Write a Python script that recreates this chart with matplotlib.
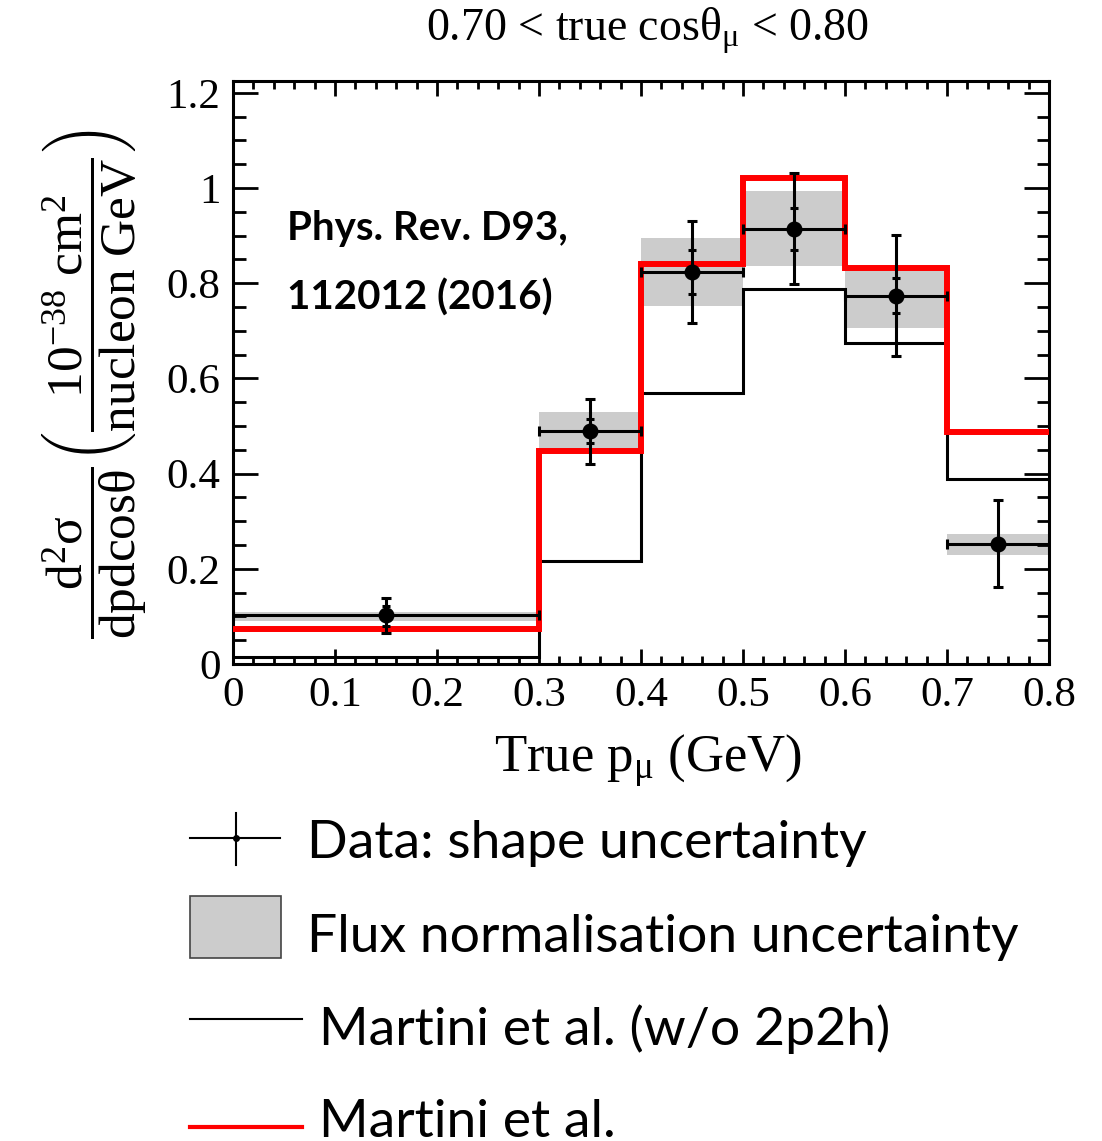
import numpy as np
import matplotlib
matplotlib.use('Agg')
import matplotlib.pyplot as plt
from matplotlib.patches import Rectangle
from matplotlib.lines import Line2D
from matplotlib.ticker import MultipleLocator

plt.rcParams['font.family'] = ['Liberation Serif', 'DejaVu Serif']
plt.rcParams['mathtext.fontset'] = 'custom'
plt.rcParams['mathtext.rm'] = 'Liberation Serif'
plt.rcParams['mathtext.it'] = 'Liberation Serif:italic'

# bins in true muon momentum (GeV)
edges = [0.0, 0.3, 0.4, 0.5, 0.6, 0.7, 0.8]

# data points with shape uncertainty (outer = total, inner ticks)
data_y = [0.102, 0.489, 0.823, 0.914, 0.774, 0.253]
err_up = [0.036, 0.068, 0.108, 0.117, 0.128, 0.092]
err_dn = [0.037, 0.069, 0.106, 0.115, 0.126, 0.092]
inner_up = [0.019, 0.025, 0.047, 0.045, 0.037, 0.0]
inner_dn = [0.023, 0.024, 0.046, 0.044, 0.036, 0.0]

# flux normalisation band
flux_lo = [0.091, 0.448, 0.753, 0.837, 0.707, 0.230]
flux_hi = [0.109, 0.530, 0.895, 0.994, 0.837, 0.274]

# Martini et al. predictions
martini_no2p2h = [0.014, 0.217, 0.569, 0.788, 0.674, 0.389]
martini = [0.074, 0.448, 0.841, 1.021, 0.832, 0.488]

W, H = 1102, 1141
fig = plt.figure(figsize=(W / 100, H / 100), dpi=100)
ax = fig.add_axes([233 / W, 1 - 664 / H, (1049 - 233) / W, (664 - 81) / H])

lefts = np.array(edges[:-1])
widths = np.diff(edges)
centers = lefts + widths / 2

# grey flux band
ax.bar(lefts, np.array(flux_hi) - np.array(flux_lo), width=widths, bottom=flux_lo,
       align='edge', color='#cccccc', linewidth=0, zorder=1)

# model histograms
ax.stairs(martini_no2p2h, edges, baseline=None, color='black', linewidth=2.2, zorder=2)
ax.stairs(martini, edges, baseline=None, color='#ff0000', linewidth=4.3, zorder=3)

# data
ax.errorbar(centers, data_y, xerr=widths / 2, yerr=[err_dn, err_up], fmt='o',
            color='black', markersize=10.5, elinewidth=2.2, capsize=3.5, capthick=2.2,
            zorder=5)
ax.errorbar(centers, data_y, yerr=[inner_dn, inner_up], fmt='none', ecolor='black',
            elinewidth=0, capsize=3, capthick=2.2, zorder=5)

ax.set_xlim(0, 0.8)
ax.set_ylim(0, 1.225)
ax.xaxis.set_minor_locator(MultipleLocator(0.02))
ax.yaxis.set_minor_locator(MultipleLocator(0.05))
ax.set_xticks(np.arange(0, 0.81, 0.1))
ax.set_xticklabels(['0', '0.1', '0.2', '0.3', '0.4', '0.5', '0.6', '0.7', '0.8'])
ax.set_yticks(np.arange(0, 1.21, 0.2))
ax.set_yticklabels(['0', '0.2', '0.4', '0.6', '0.8', '1', '1.2'])
ax.tick_params(which='both', direction='in', top=True, right=True, width=2, labelsize=31)
ax.tick_params(axis='x', which='major', length=11, pad=9)
ax.tick_params(axis='x', which='minor', length=5.5)
ax.tick_params(axis='y', which='major', length=18, pad=9)
ax.tick_params(axis='y', which='minor', length=9)
for s in ax.spines.values():
    s.set_linewidth(2.2)

ax.text(0.053, 0.891, 'Phys. Rev. D93,', fontsize=29, fontweight='bold', family='Lato')
ax.text(0.053, 0.744, '112012 (2016)', fontsize=29, fontweight='bold', family='Lato')

fig.text(648 / W, 1 - 41 / H, r'0.70 < true cosθ$_{\mathrm{μ}}$ < 0.80', fontsize=33,
         ha='center', va='baseline')
fig.text(648 / W, 1 - 772 / H, r'True p$_{\mathrm{μ}}$ (GeV)', fontsize=38,
         ha='center', va='baseline')
fig.text(95 / W, 1 - 384 / H,
         r'$\dfrac{\mathrm{d^2σ}}{\mathrm{dpdcosθ}}\left(\dfrac{\mathrm{10^{-38}\ cm^2}}{\mathrm{nucleon\ GeV}}\right)$',
         fontsize=37, rotation=90, ha='center', va='center')

# legend below the plot, drawn in pixel coordinates
lax = fig.add_axes([0, 0, 1, 1], zorder=-1)
lax.set_xlim(0, W)
lax.set_ylim(H, 0)
lax.axis('off')
lax.add_line(Line2D([190, 280], [838, 838], color='black', lw=1.5))
lax.add_line(Line2D([236, 236], [813, 865], color='black', lw=1.5))
lax.plot([236], [838], 'o', color='black', markersize=4)
lax.add_patch(Rectangle((190, 896), 91, 62, facecolor='#cccccc', edgecolor='#444444', lw=1.2))
lax.add_line(Line2D([190, 302], [1019, 1019], color='black', lw=1.5))
lax.add_line(Line2D([190, 302], [1127, 1127], color='#ff0000', lw=3))
legend_labels = ['Data: shape uncertainty', 'Flux normalisation uncertainty',
                 'Martini et al. (w/o 2p2h)', 'Martini et al.']
legend_x = [307, 307, 319, 319]
legend_base = [858, 952, 1045, 1137]
for lab, lx, ly in zip(legend_labels, legend_x, legend_base):
    lax.text(lx, ly, lab, fontsize=38.5, family='Lato', va='baseline', ha='left')

fig.savefig('out.png', dpi=100)
